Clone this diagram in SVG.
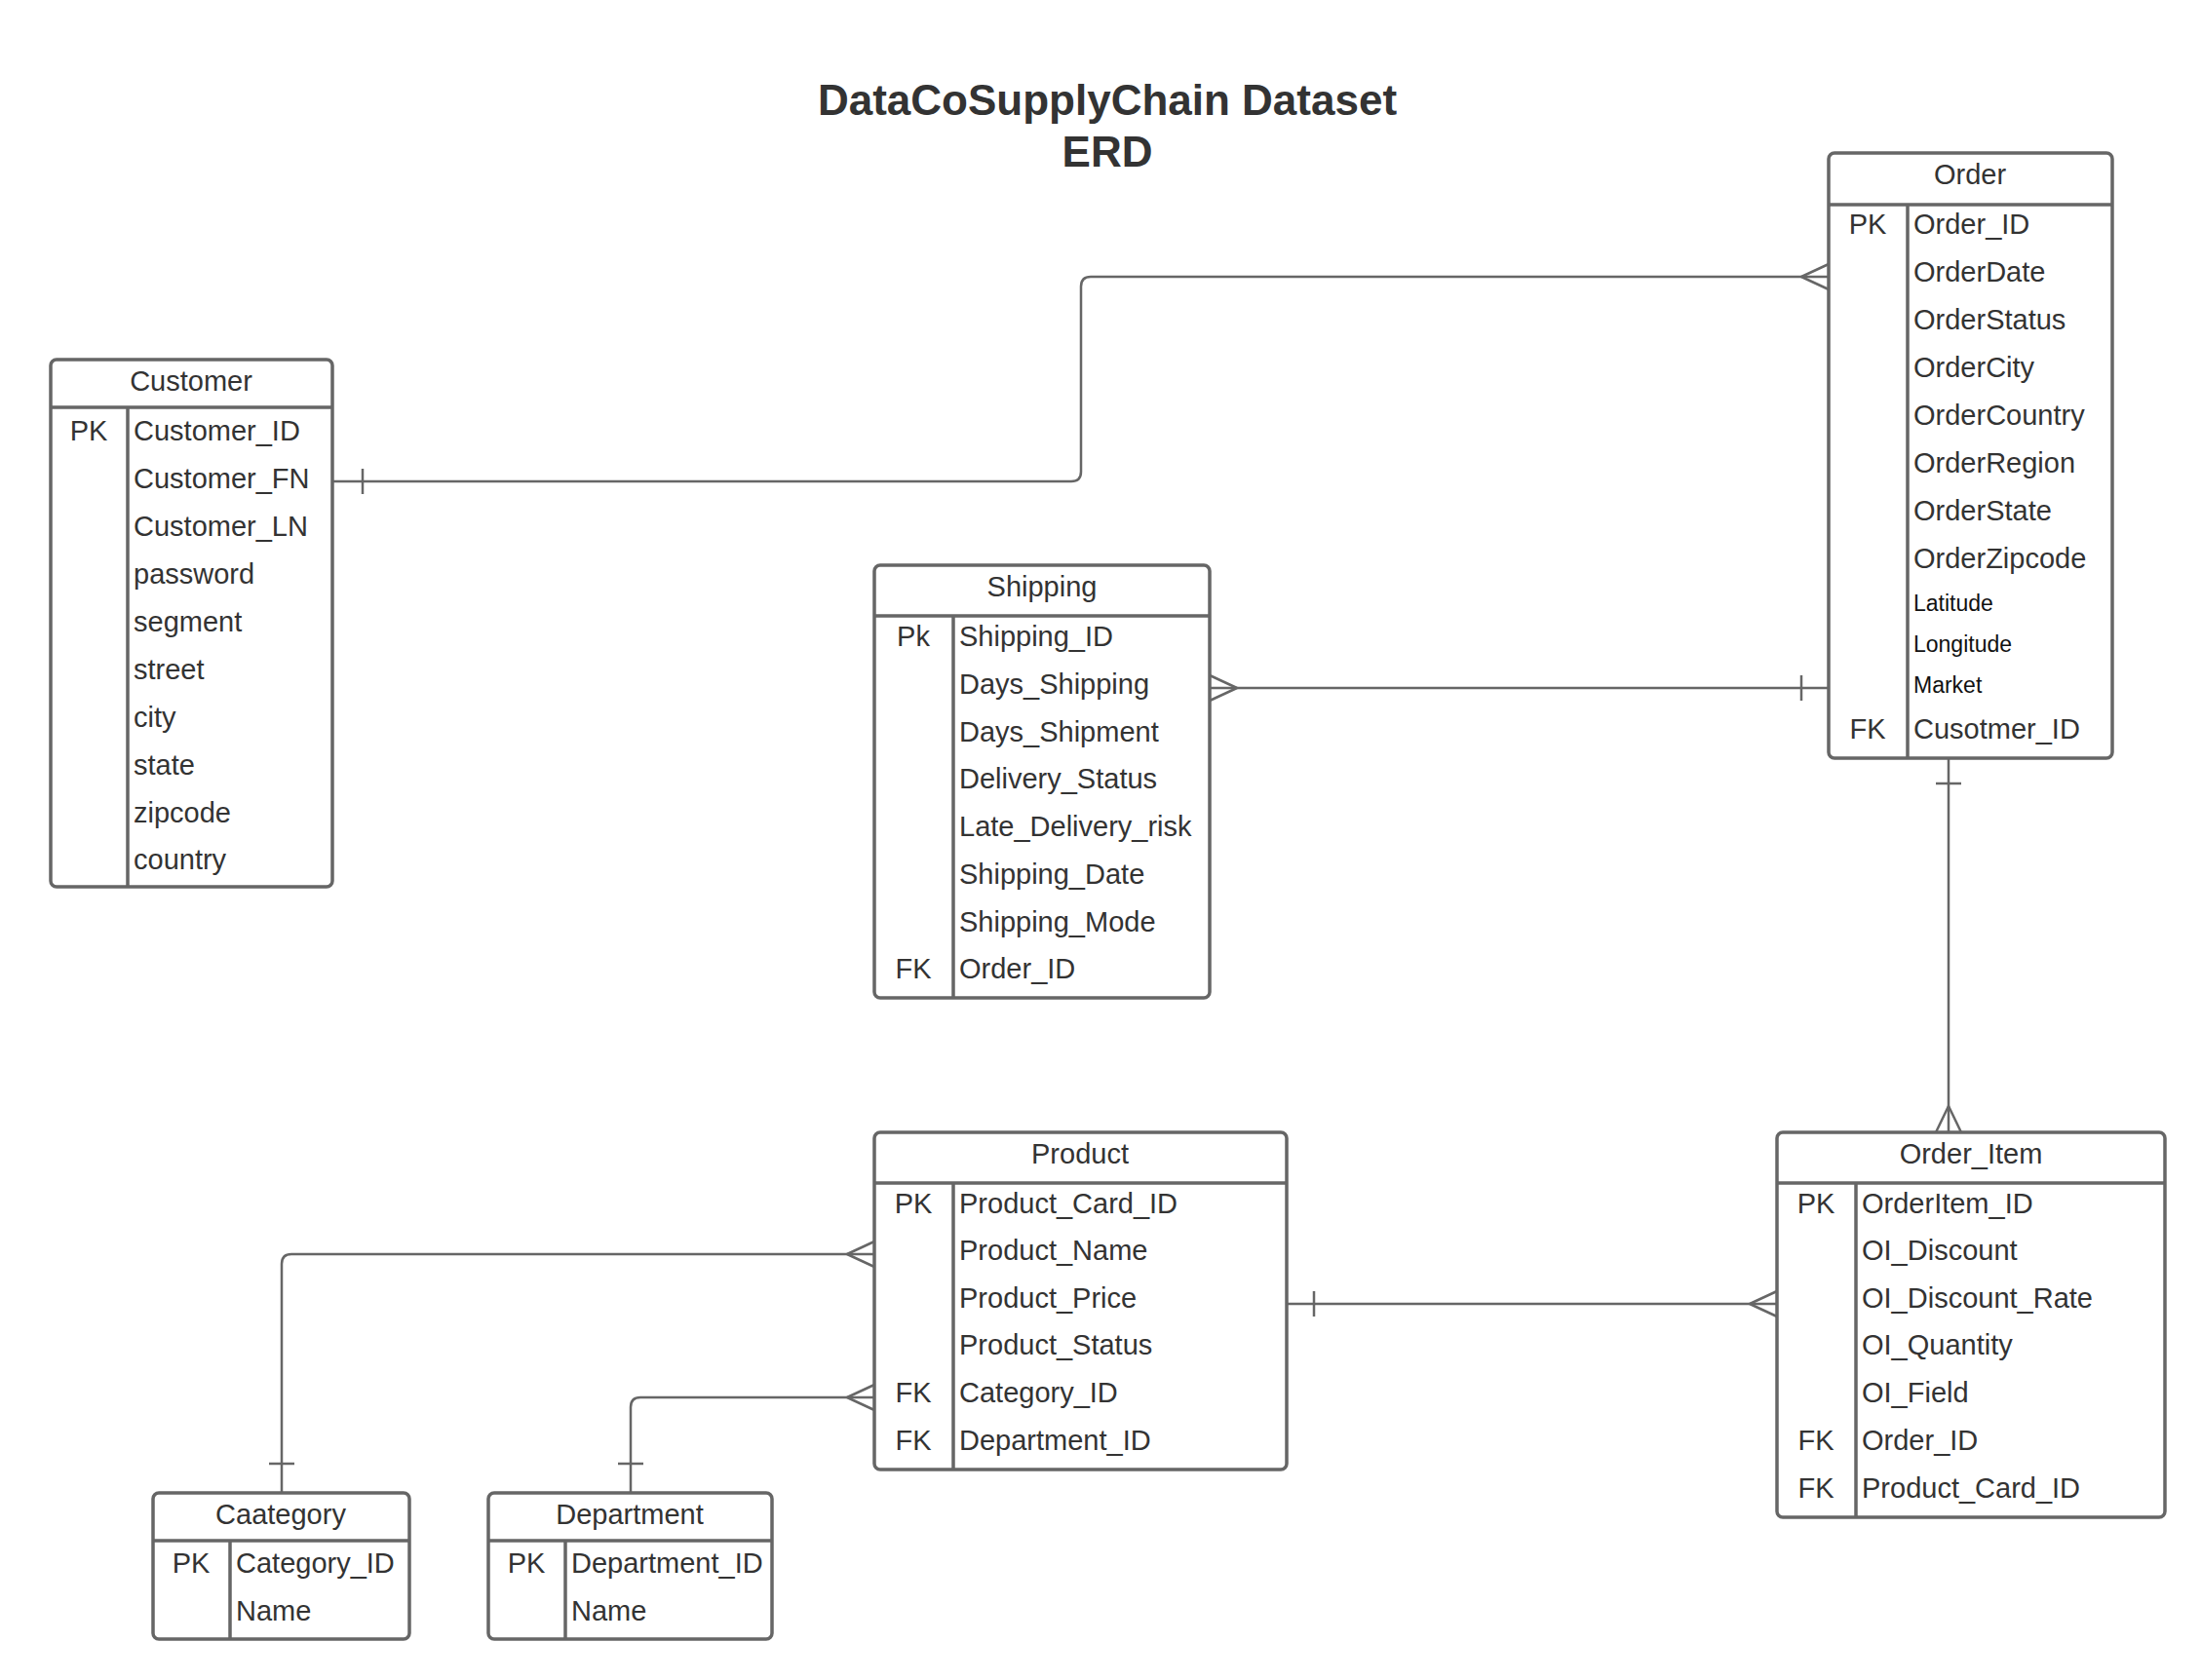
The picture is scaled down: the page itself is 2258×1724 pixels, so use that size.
<svg xmlns="http://www.w3.org/2000/svg" width="2258" height="1724" viewBox="0 0 2258 1724">
<style>
.box{fill:#fff;stroke:#666;stroke-width:3.5}
.div{stroke:#666;stroke-width:3.5;fill:none}
.con{stroke:#666;stroke-width:2.5;fill:none}
text{font-family:"Liberation Sans",Arial,sans-serif;fill:#333}
.t{font-size:44px;font-weight:bold;text-anchor:middle;fill:#333}
.h{font-size:29px;text-anchor:middle}
.k{font-size:29px;text-anchor:middle}
.a{font-size:29px}
.s{font-size:23px;fill:#111}
</style>
<rect width="2258" height="1724" fill="#fff"/>
<g id="title">
<text class="t" x="1136" y="118">DataCoSupplyChain Dataset</text>
<text class="t" x="1136" y="171">ERD</text>
</g>
<g id="connectors">
<path class="con" d="M341,494 H1099 Q1109,494 1109,484 V294 Q1109,284 1119,284 H1876"/>
<path class="con" d="M372,481 V507"/>
<path class="con" d="M1848,284 L1876,271 M1848,284 L1876,297"/>
<path class="con" d="M1241,706 H1876"/>
<path class="con" d="M1269,706 L1241,693 M1269,706 L1241,719"/>
<path class="con" d="M1848,693 V719"/>
<path class="con" d="M1999,778 V1162"/>
<path class="con" d="M1986,804 H2012"/>
<path class="con" d="M1999,1135 L1986,1162 M1999,1135 L2012,1162"/>
<path class="con" d="M1320,1338 H1823"/>
<path class="con" d="M1348,1325 V1351"/>
<path class="con" d="M1795,1338 L1823,1325 M1795,1338 L1823,1351"/>
<path class="con" d="M289,1532 V1297 Q289,1287 299,1287 H897"/>
<path class="con" d="M276,1502 H302"/>
<path class="con" d="M869,1287 L897,1274 M869,1287 L897,1300"/>
<path class="con" d="M647,1532 V1444 Q647,1434 657,1434 H897"/>
<path class="con" d="M634,1502 H660"/>
<path class="con" d="M869,1434 L897,1421 M869,1434 L897,1447"/>
</g>
<g id="customer">
<rect class="box" x="52" y="369" width="289" height="541" rx="6"/>
<path class="div" d="M52,418 H341 M131,418 V910"/>
<text class="h" x="196" y="401">Customer</text>
<text class="k" x="91" y="452">PK</text>
<text class="a" x="137" y="452">Customer_ID</text>
<text class="a" x="137" y="501">Customer_FN</text>
<text class="a" x="137" y="550">Customer_LN</text>
<text class="a" x="137" y="599">password</text>
<text class="a" x="137" y="648">segment</text>
<text class="a" x="137" y="697">street</text>
<text class="a" x="137" y="746">city</text>
<text class="a" x="137" y="795">state</text>
<text class="a" x="137" y="844">zipcode</text>
<text class="a" x="137" y="892">country</text>
</g>
<g id="order">
<rect class="box" x="1876" y="157" width="291" height="621" rx="6"/>
<path class="div" d="M1876,210 H2167 M1957,210 V778"/>
<text class="h" x="2021" y="189">Order</text>
<text class="k" x="1916" y="240">PK</text>
<text class="a" x="1963" y="240">Order_ID</text>
<text class="a" x="1963" y="289">OrderDate</text>
<text class="a" x="1963" y="338">OrderStatus</text>
<text class="a" x="1963" y="387">OrderCity</text>
<text class="a" x="1963" y="436">OrderCountry</text>
<text class="a" x="1963" y="485">OrderRegion</text>
<text class="a" x="1963" y="534">OrderState</text>
<text class="a" x="1963" y="583">OrderZipcode</text>
<text class="s" x="1963" y="627">Latitude</text>
<text class="s" x="1963" y="669">Longitude</text>
<text class="s" x="1963" y="711">Market</text>
<text class="k" x="1916" y="758">FK</text>
<text class="a" x="1963" y="758">Cusotmer_ID</text>
</g>
<g id="shipping">
<rect class="box" x="897" y="580" width="344" height="444" rx="6"/>
<path class="div" d="M897,632 H1241 M978,632 V1024"/>
<text class="h" x="1069" y="612">Shipping</text>
<text class="k" x="937" y="663">Pk</text>
<text class="a" x="984" y="663">Shipping_ID</text>
<text class="a" x="984" y="712">Days_Shipping</text>
<text class="a" x="984" y="761">Days_Shipment</text>
<text class="a" x="984" y="809">Delivery_Status</text>
<text class="a" x="984" y="858">Late_Delivery_risk</text>
<text class="a" x="984" y="907">Shipping_Date</text>
<text class="a" x="984" y="956">Shipping_Mode</text>
<text class="k" x="937" y="1004">FK</text>
<text class="a" x="984" y="1004">Order_ID</text>
</g>
<g id="product">
<rect class="box" x="897" y="1162" width="423" height="346" rx="6"/>
<path class="div" d="M897,1214 H1320 M978,1214 V1508"/>
<text class="h" x="1108" y="1194">Product</text>
<text class="k" x="937" y="1245">PK</text>
<text class="a" x="984" y="1245">Product_Card_ID</text>
<text class="a" x="984" y="1293">Product_Name</text>
<text class="a" x="984" y="1342">Product_Price</text>
<text class="a" x="984" y="1390">Product_Status</text>
<text class="k" x="937" y="1439">FK</text>
<text class="a" x="984" y="1439">Category_ID</text>
<text class="k" x="937" y="1488">FK</text>
<text class="a" x="984" y="1488">Department_ID</text>
</g>
<g id="order_item">
<rect class="box" x="1823" y="1162" width="398" height="395" rx="6"/>
<path class="div" d="M1823,1214 H2221 M1904,1214 V1557"/>
<text class="h" x="2022" y="1194">Order_Item</text>
<text class="k" x="1863" y="1245">PK</text>
<text class="a" x="1910" y="1245">OrderItem_ID</text>
<text class="a" x="1910" y="1293">OI_Discount</text>
<text class="a" x="1910" y="1342">OI_Discount_Rate</text>
<text class="a" x="1910" y="1390">OI_Quantity</text>
<text class="a" x="1910" y="1439">OI_Field</text>
<text class="k" x="1863" y="1488">FK</text>
<text class="a" x="1910" y="1488">Order_ID</text>
<text class="k" x="1863" y="1537">FK</text>
<text class="a" x="1910" y="1537">Product_Card_ID</text>
</g>
<g id="caategory">
<rect class="box" x="157" y="1532" width="263" height="150" rx="6"/>
<path class="div" d="M157,1581 H420 M236,1581 V1682"/>
<text class="h" x="288" y="1564">Caategory</text>
<text class="k" x="196" y="1614">PK</text>
<text class="a" x="242" y="1614">Category_ID</text>
<text class="a" x="242" y="1663">Name</text>
</g>
<g id="department">
<rect class="box" x="501" y="1532" width="291" height="150" rx="6"/>
<path class="div" d="M501,1581 H792 M580,1581 V1682"/>
<text class="h" x="646" y="1564">Department</text>
<text class="k" x="540" y="1614">PK</text>
<text class="a" x="586" y="1614">Department_ID</text>
<text class="a" x="586" y="1663">Name</text>
</g>
</svg>
